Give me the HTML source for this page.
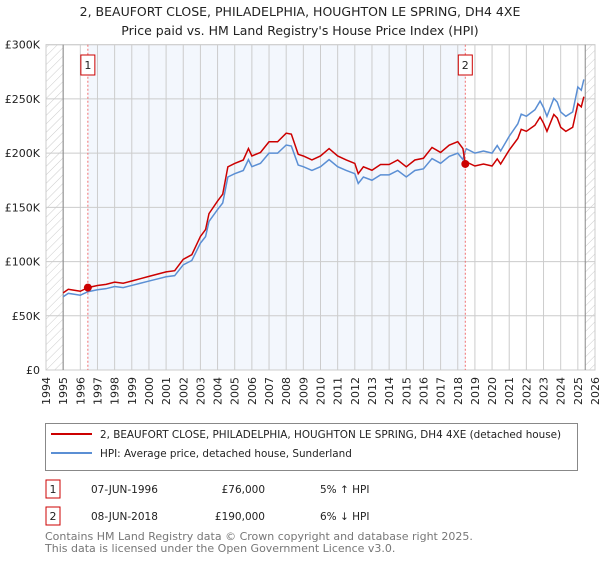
<!DOCTYPE html>
<html><head><meta charset="utf-8"><style>
body{margin:0;background:#fff;font-family:"DejaVu Sans","Liberation Sans",sans-serif;}
svg text{font-family:"DejaVu Sans","Liberation Sans",sans-serif;}
</style></head><body>
<svg id="c" width="600" height="560" xmlns="http://www.w3.org/2000/svg">
<defs><pattern id="hatch" width="6" height="6" patternUnits="userSpaceOnUse" patternTransform="rotate(45)"><line x1="0" y1="0" x2="0" y2="6" stroke="#ccc" stroke-width="1"/></pattern></defs>
<text x="300" y="16" text-anchor="middle" font-size="12.5" fill="#222">2, BEAUFORT CLOSE, PHILADELPHIA, HOUGHTON LE SPRING, DH4 4XE</text>
<text x="300" y="35" text-anchor="middle" font-size="12.5" fill="#222">Price paid vs. HM Land Registry's House Price Index (HPI)</text>
<g id="plot"></g>
<rect x="45.5" y="423.5" width="532" height="47" fill="#fff" stroke="#888"/>
<line x1="51" y1="434" x2="92" y2="434" stroke="#cc0000" stroke-width="2"/>
<text x="100" y="438" font-size="10.4" fill="#222">2, BEAUFORT CLOSE, PHILADELPHIA, HOUGHTON LE SPRING, DH4 4XE (detached house)</text>
<line x1="51" y1="453" x2="92" y2="453" stroke="#5b8fd4" stroke-width="2"/>
<text x="100" y="457" font-size="10.4" fill="#222">HPI: Average price, detached house, Sunderland</text>
<rect x="46" y="480" width="14" height="18" fill="#fff" stroke="#cc0000"/>
<text x="53" y="493" text-anchor="middle" font-size="11" fill="#222">1</text>
<text x="91" y="493" font-size="10.5" fill="#222">07-JUN-1996</text>
<text x="265" y="493" text-anchor="end" font-size="10.5" fill="#222">£76,000</text>
<text x="320" y="493" font-size="10.5" fill="#222">5% ↑ HPI</text>
<rect x="46" y="507" width="14" height="18" fill="#fff" stroke="#cc0000"/>
<text x="53" y="520" text-anchor="middle" font-size="11" fill="#222">2</text>
<text x="91" y="520" font-size="10.5" fill="#222">08-JUN-2018</text>
<text x="265" y="520" text-anchor="end" font-size="10.5" fill="#222">£190,000</text>
<text x="320" y="520" font-size="10.5" fill="#222">6% ↓ HPI</text>
<text x="45" y="540" font-size="11" fill="#777">Contains HM Land Registry data © Crown copyright and database right 2025.</text>
<text x="45" y="552" font-size="11" fill="#777">This data is licensed under the Open Government Licence v3.0.</text>
</svg>
<script>
const hpiDates=[1995.0,1995.3,1995.6,1996.0,1996.44,1997.0,1997.5,1998.0,1998.5,1999.0,1999.5,2000.0,2000.5,2001.0,2001.5,2002.0,2002.5,2003.0,2003.3,2003.5,2004.0,2004.3,2004.6,2005.0,2005.5,2005.8,2006.0,2006.5,2007.0,2007.5,2008.0,2008.3,2008.7,2009.0,2009.5,2010.0,2010.5,2011.0,2011.5,2012.0,2012.2,2012.5,2013.0,2013.5,2014.0,2014.5,2015.0,2015.5,2016.0,2016.5,2017.0,2017.5,2018.0,2018.3,2018.44,2018.5,2019.0,2019.5,2020.0,2020.3,2020.5,2021.0,2021.5,2021.7,2022.0,2022.5,2022.8,2023.0,2023.2,2023.6,2023.8,2024.0,2024.3,2024.7,2025.0,2025.2,2025.35];
const hpiValues=[67.6,70.7,70,69,72.2,74,75,77,76,78,80,82,84,86,87,97,101,117,123,137,148,154,178,181,184,194,187.5,190.6,200,200,207.5,206.6,189,187.5,184,187.5,194,187.5,184,181,172,178,175,180,180,184,178,184,185.5,195,190.6,197,200,194,202,204,200,202,200,207,202,215.6,227,236,234,240,248,242,234,250.5,247,238,234,238,261,258,268];
const saleDates=[1996.44,2018.44];
const salePrices=[76,190];
const saleLabels=["1","2"];
const yTicks=[0,50,100,150,200,250,300];
const yTickLabels=["£0","£50K","£100K","£150K","£200K","£250K","£300K"];
const xStart=1994,xEnd=2026,dataStart=1995,dataEnd=2025.43;
const L=46,R=595,T=44.7,B=370;
const xs=y=>L+(y-xStart)/(xEnd-xStart)*(R-L);
const ys=v=>B-v/300*(B-T);
const g=document.getElementById('plot');
const NS='http://www.w3.org/2000/svg';
function mk(t,a){const e=document.createElementNS(NS,t);for(const k in a)e.setAttribute(k,a[k]);g.appendChild(e);return e;}
let e;
e=mk('rect',{x:L,y:T,width:R-L,height:B-T,fill:'#fff',stroke:'#ccc'});


e=mk('rect',{x:xs(saleDates[0]),y:T,width:xs(saleDates[1])-xs(saleDates[0]),height:B-T,fill:'#eef3fc',opacity:0.7});


e=mk('rect',{x:L,y:T,width:xs(dataStart)-L,height:B-T,fill:'url(#hatch)'});


e=mk('rect',{x:xs(dataEnd),y:T,width:R-xs(dataEnd),height:B-T,fill:'url(#hatch)'});


for(let yr=xStart;yr<=xEnd;yr++){
 const x=xs(yr);
 e=mk('line',{x1:x,y1:T,x2:x,y2:B,stroke:'#ccc','stroke-width':1});
 
 
 e=mk('text',{x:0,y:0,transform:`translate(${x+4},${B+7}) rotate(-90)`,'text-anchor':'end','font-size':11,fill:'#222'});
 e.textContent=yr;
 
 
}
yTicks.forEach((v,i)=>{
 e=mk('line',{x1:L,y1:ys(v),x2:R,y2:ys(v),stroke:'#ccc','stroke-width':1});
 
 
 e=mk('text',{x:L-6,y:ys(v)+4,'text-anchor':'end','font-size':11,fill:'#222'});
 e.textContent=yTickLabels[i];
 
 
});
[xs(dataStart),xs(dataEnd)].forEach(x=>{
 e=mk('line',{x1:x,y1:T,x2:x,y2:B,stroke:'#888','stroke-width':1});
 
 
});
function interp(d){for(let i=0;i<hpiDates.length-1;i++){if(d<=hpiDates[i+1]){const t=(d-hpiDates[i])/(hpiDates[i+1]-hpiDates[i]);return hpiValues[i]+t*(hpiValues[i+1]-hpiValues[i]);}}return hpiValues[hpiValues.length-1];}
const r1=salePrices[0]/interp(saleDates[0]), r2=salePrices[1]/interp(saleDates[1]);
let hp='',rp='';
hpiDates.forEach((d,i)=>{const x=xs(d);hp+=(i?'L':'M')+x+','+ys(hpiValues[i]);const r=d<saleDates[1]?r1:r2;rp+=(i?'L':'M')+x+','+ys(hpiValues[i]*r);});
e=mk('path',{d:hp,fill:'none',stroke:'#5b8fd4','stroke-width':1.5});


e=mk('path',{d:rp,fill:'none',stroke:'#cc0000','stroke-width':1.5});


saleDates.forEach((d,i)=>{
 const x=xs(d);
 e=mk('line',{x1:x,y1:T,x2:x,y2:B,stroke:'#f07070','stroke-width':1,'stroke-dasharray':'2,2'});
 
 
 e=mk('circle',{cx:x,cy:ys(salePrices[i]),r:4,fill:'#cc0000'});
 
 
 e=mk('rect',{x:x-7,y:55,width:14,height:20,fill:'#fff',stroke:'#cc0000'});
 
 
 e=mk('text',{x:x,y:69,'text-anchor':'middle','font-size':11,fill:'#222'});
 e.textContent=saleLabels[i];
 
 
});
</script>
</body></html>
